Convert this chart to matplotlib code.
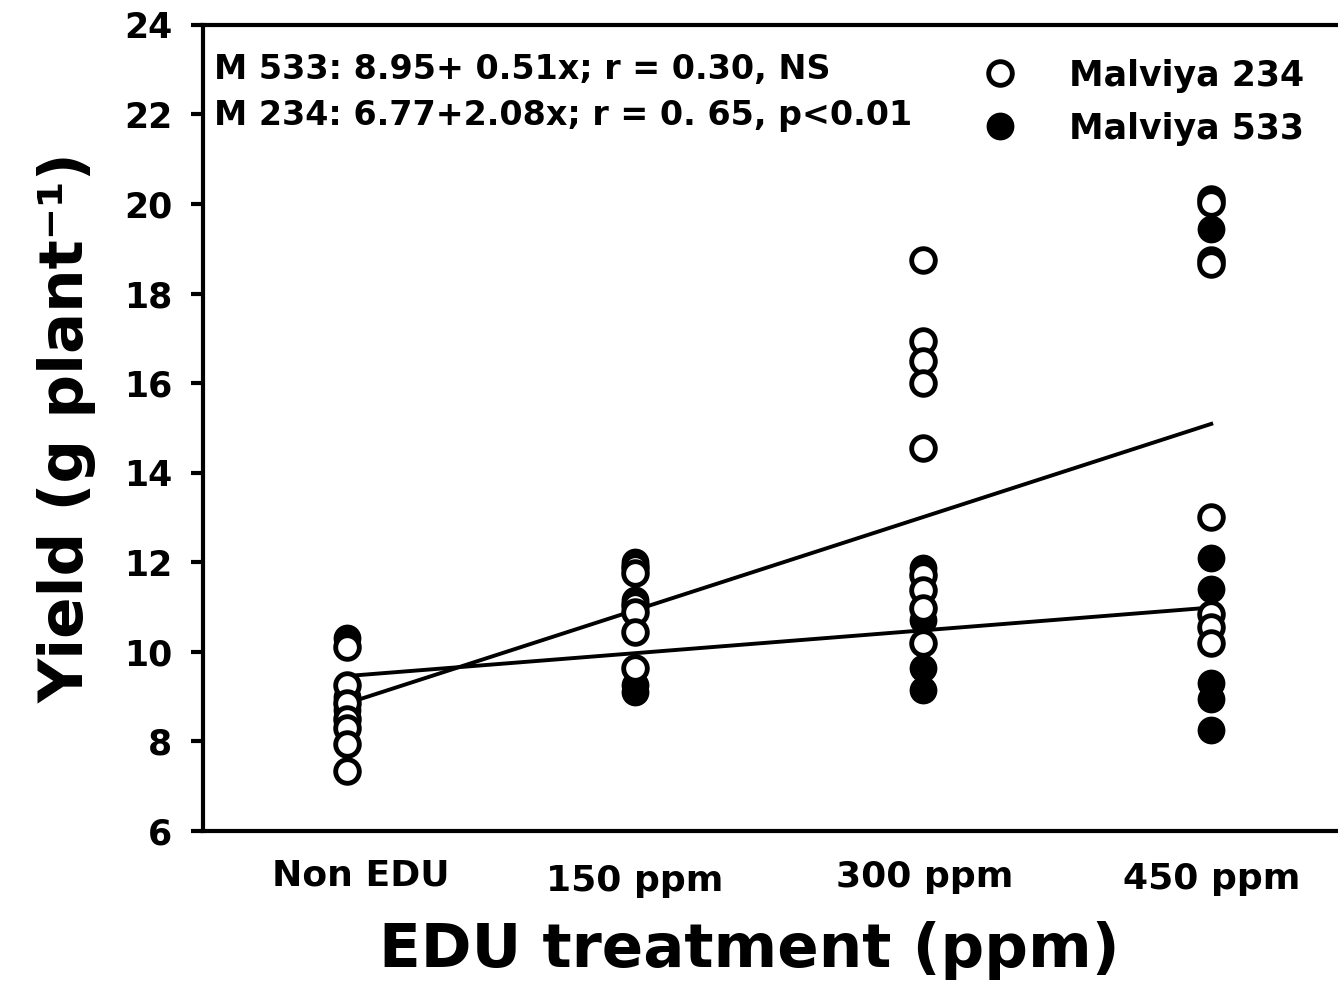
import matplotlib
matplotlib.use("Agg")
import matplotlib.pyplot as plt
import matplotlib.transforms as mtransforms
import numpy as np

plt.rcParams['font.family'] = ['DejaVu Sans']
plt.rcParams['font.weight'] = 'bold'

# treatment levels (x = 1..4)
treatments = ['Non EDU', '150 ppm', '300 ppm', '450 ppm']

# yield values (g plant-1)
m234 = [
    [10.1, 9.26, 8.86, 8.5, 8.3, 7.95, 7.35],
    [11.9, 11.75, 11.05, 10.9, 10.45, 9.65],
    [18.75, 16.95, 16.5, 16.0, 14.55, 11.72, 11.38, 10.98, 10.2],
    [20.12, 20.02, 18.75, 18.65, 13.0, 10.85, 10.55, 10.2],
]
m533 = [
    [10.3, 9.0, 8.7],
    [12.0, 11.15, 9.25, 9.1],
    [11.87, 10.7, 9.64, 9.15],
    [19.45, 12.1, 11.4, 9.3, 8.95, 8.25],
]

# regression coefficients (intercept, slope) from the figure
fit_533 = (8.95, 0.51)
fit_234 = (6.77, 2.08)

fig = plt.figure(figsize=(13.38, 9.94), dpi=100)
ax = fig.add_axes([0.1517, 0.164, 0.8483, 0.811])

xl = np.array([1, 4])
for a, b in (fit_533, fit_234):
    ax.plot(xl, a + b * xl, color='black', lw=2.8, zorder=1)

for i, vals in enumerate(m533):
    ax.plot([i + 1] * len(vals), vals, 'o', ms=17, mfc='black', mec='black',
            mew=3, ls='none', zorder=2, label='Malviya 533' if i == 0 else None)
for i, vals in enumerate(m234):
    ax.plot([i + 1] * len(vals), vals, 'o', ms=17, mfc='white', mec='black',
            mew=3.5, ls='none', zorder=3, label='Malviya 234' if i == 0 else None)

ax.set_xlim(0.5, 4.44)
ax.set_ylim(6, 24)
ax.set_yticks(np.arange(6, 25, 2))
ax.set_xticks(range(1, 5))
ax.set_xticklabels(treatments, fontsize=26, fontweight='bold')
ax.tick_params(axis='x', length=0, pad=20)
ax.tick_params(axis='y', length=9, width=3, labelsize=25, direction='out', pad=13)
for lab in ax.get_yticklabels():
    lab.set_fontweight('bold')

# small offsets of the category labels as in the original
offsets = [(14, 0), (0, -5), (2, -1), (0, -3)]
for lab, (dx, dy) in zip(ax.get_xticklabels(), offsets):
    lab.set_transform(lab.get_transform() +
                      mtransforms.ScaledTranslation(dx / 100, dy / 100, fig.dpi_scale_trans))

ax.spines['right'].set_visible(False)
for s in ('left', 'bottom', 'top'):
    ax.spines[s].set_linewidth(3)

ax.set_xlabel('EDU treatment (ppm)', fontsize=44, fontweight='bold')
ax.xaxis.set_label_coords(0.481, -0.112)
ax.set_ylabel('Yield (g plant\u207b\u00b9)', fontsize=44, fontweight='bold')
ax.yaxis.set_label_coords(-0.094, 0.5)

ax.text(0.01, 0.965, 'M 533: 8.95+ 0.51x; r = 0.30, NS', transform=ax.transAxes,
        fontsize=24, fontweight='bold', va='top')
ax.text(0.01, 0.908, 'M 234: 6.77+2.08x; r = 0. 65, p<0.01', transform=ax.transAxes,
        fontsize=24, fontweight='bold', va='top')

h, l = ax.get_legend_handles_labels()
ax.legend(h[::-1], l[::-1], loc='upper right', bbox_to_anchor=(0.998, 0.997),
          frameon=False, handletextpad=1.0, labelspacing=0.55,
          prop={'weight': 'bold', 'size': 25})

fig.savefig('out.png', dpi=100)
